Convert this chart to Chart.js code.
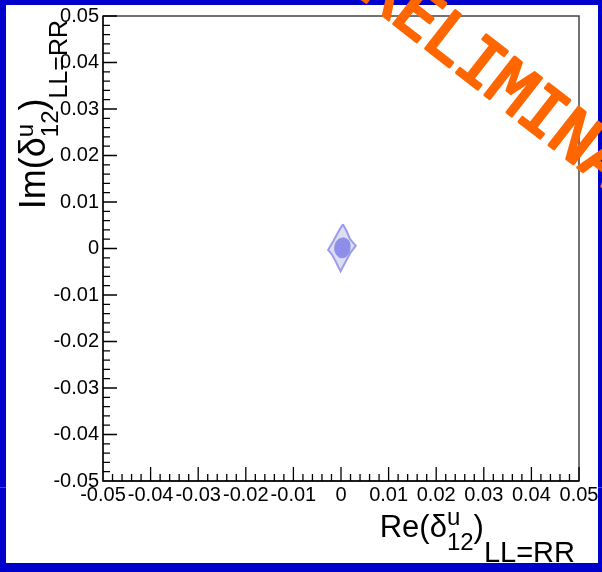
<!DOCTYPE html>
<html>
<head>
<meta charset="utf-8">
<script src="https://cdn.jsdelivr.net/npm/chart.js@4.4.1/dist/chart.umd.min.js"></script>
<style>
html, body { margin: 0; padding: 0; background: #fff; }
#wrap { width: 602px; height: 572px; }
</style>
</head>
<body>
<div id="wrap"><canvas id="contour" width="602" height="572"></canvas></div>
<script>
// axis labels (ROOT style, major every 0.01)
const xTickLabels = ['-0.05', '-0.04', '-0.03', '-0.02', '-0.01', '0', '0.01', '0.02', '0.03', '0.04', '0.05'];
const yTickLabels = ['-0.05', '-0.04', '-0.03', '-0.02', '-0.01', '0', '0.01', '0.02', '0.03', '0.04', '0.05'];

// outer (light) contour
const outerX = [0.0004, 0.0012, 0.0019, 0.0031, 0.0020, 0.0011, -0.0001, -0.0012, -0.0019, -0.0027, -0.0016, -0.0005, 0.0004];
const outerY = [0.0052, 0.0037, 0.0020, 0.0006, -0.0009, -0.0026, -0.0049, -0.0026, -0.0013, -0.0003, 0.0016, 0.0037, 0.0052];

// inner (dark) contour
const innerX = [0.0006, 0.0016, 0.0019, 0.0014, 0.0001, -0.0010, -0.0013, -0.0006, 0.0006];
const innerY = [0.0023, 0.0017, 0.0002, -0.0014, -0.0020, -0.0012, 0.0004, 0.0019, 0.0023];

function toPoints(xs, ys) {
    return xs.map((x, i) => ({ x: x, y: ys[i] }));
}

function isMajor(value) {
    return Math.round(value * 1000) % 10 === 0;
}

// blue slide frame + white background
const backgroundPlugin = {
    id: 'slideFrame',
    beforeDraw(chart) {
        const ctx = chart.ctx;
        ctx.save();
        ctx.fillStyle = '#fff';
        ctx.fillRect(0, 0, chart.width, chart.height);
        ctx.fillStyle = '#0000cc';
        ctx.fillRect(0, 0, chart.width, 5);
        ctx.fillRect(0, 0, 6, chart.height);
        ctx.fillRect(chart.width - 4, 0, 4, chart.height);
        ctx.fillRect(0, chart.height - 9, chart.width, 9);
        // small dark marks on the slide edge
        ctx.fillStyle = '#555';
        ctx.fillRect(0, 487, 6, 1);
        ctx.fillRect(chart.width - 4, 487, 4, 1);
        ctx.restore();
    }
};

// inward ticks, frame box, titles and the watermark
const rootStylePlugin = {
    id: 'rootStyle',
    afterDraw(chart) {
        const ctx = chart.ctx;
        const area = chart.chartArea;
        const xs = chart.scales.x;
        const ys = chart.scales.y;

        ctx.save();
        ctx.strokeStyle = '#444';
        ctx.lineWidth = 1.5;
        ctx.strokeRect(area.left, area.top, area.right - area.left, area.bottom - area.top);

        ctx.strokeStyle = '#000';
        ctx.lineWidth = 1.3;
        ctx.beginPath();
        ctx.moveTo(area.left, area.top);
        ctx.lineTo(area.left, area.bottom);
        ctx.lineTo(area.right, area.bottom);
        xs.ticks.forEach(t => {
            const px = xs.getPixelForValue(t.value);
            const len = isMajor(t.value) ? 14 : 7;
            ctx.moveTo(px, area.bottom);
            ctx.lineTo(px, area.bottom - len);
        });
        ys.ticks.forEach(t => {
            const py = ys.getPixelForValue(t.value);
            const len = isMajor(t.value) ? 14 : 7;
            ctx.moveTo(area.left, py);
            ctx.lineTo(area.left + len, py);
        });
        ctx.stroke();
        ctx.restore();

        drawTitle(ctx, 575, 537, 0, 'Re(', 31, 29, 25);
        drawTitle(ctx, 45, 20, -Math.PI / 2, 'Im(', 36, 25, 22);

        // PRELIMINARY watermark
        ctx.save();
        ctx.translate(509, 92);
        ctx.rotate(38 * Math.PI / 180);
        ctx.font = '66px "DejaVu Sans Mono"';
        ctx.fillStyle = '#ff6600';
        ctx.strokeStyle = '#ff6600';
        ctx.lineWidth = 3;
        ctx.lineJoin = 'round';
        ctx.lineCap = 'round';
        ctx.textAlign = 'center';
        ctx.textBaseline = 'middle';
        ctx.fillText('PRELIMINARY', 0, 0);
        ctx.strokeText('PRELIMINARY', 0, 0);
        ctx.restore();
    }
};

// draws  X(δ^u_12)_LL=RR  right-aligned at (x, y)
function drawTitle(ctx, x, y, angle, head, mainSize, tailSize, tailDy) {
    const fam = '"Liberation Sans", Arial, sans-serif';
    const segs = [
        { t: head, s: mainSize, dy: 0 },
        { t: 'δ', s: mainSize, dy: 0 },
        { sup: 'u', sub: '12', s: 24, supDy: -12, subDy: 13 },
        { t: ')', s: mainSize, dy: 0 },
        { t: 'LL=RR', s: tailSize, dy: tailDy }
    ];
    ctx.save();
    ctx.translate(x, y);
    ctx.rotate(angle);
    ctx.fillStyle = '#000';
    ctx.textBaseline = 'alphabetic';
    ctx.textAlign = 'left';

    let total = 0;
    segs.forEach(sg => {
        ctx.font = sg.s + 'px ' + fam;
        if (sg.t) {
            sg.w = ctx.measureText(sg.t).width;
        } else {
            sg.w = Math.max(ctx.measureText(sg.sup).width, ctx.measureText(sg.sub).width);
        }
        total += sg.w;
    });

    let cx = -total;
    segs.forEach(sg => {
        ctx.font = sg.s + 'px ' + fam;
        if (sg.t) {
            ctx.fillText(sg.t, cx, sg.dy);
        } else {
            ctx.fillText(sg.sup, cx, sg.supDy);
            ctx.fillText(sg.sub, cx, sg.subDy);
        }
        cx += sg.w;
    });
    ctx.restore();
}

const tickFont = { family: '"Liberation Sans", Arial, sans-serif', size: 20 };

const contourChart = new Chart(document.getElementById('contour'), {
    type: 'scatter',
    data: {
        datasets: [
            {
                label: '68%',
                data: toPoints(innerX, innerY),
                showLine: true,
                fill: 'shape',
                backgroundColor: '#8e8ee8',
                borderColor: '#8e8ee8',
                borderWidth: 1,
                tension: 0.4,
                pointRadius: 0
            },
            {
                label: '95%',
                data: toPoints(outerX, outerY),
                showLine: true,
                fill: 'shape',
                backgroundColor: '#dedef0',
                borderColor: '#9c9cee',
                borderWidth: 2,
                tension: 0,
                pointRadius: 0
            }
        ]
    },
    options: {
        responsive: false,
        animation: false,
        layout: {
            padding: { left: 51, top: 15, right: 23, bottom: 65 }
        },
        plugins: {
            legend: { display: false },
            tooltip: { enabled: false },
            title: { display: false }
        },
        scales: {
            x: {
                type: 'linear',
                min: -0.05,
                max: 0.05,
                afterFit(scale) { scale.height = 26; },
                grid: { drawOnChartArea: false, drawTicks: false },
                border: { display: false },
                ticks: {
                    stepSize: 0.002,
                    autoSkip: false,
                    maxRotation: 0,
                    minRotation: 0,
                    padding: 2,
                    color: '#000',
                    font: tickFont,
                    callback: function(value) {
                        if (!isMajor(value)) return '';
                        return xTickLabels[Math.round((value + 0.05) * 100)];
                    }
                }
            },
            y: {
                type: 'linear',
                min: -0.05,
                max: 0.05,
                afterFit(scale) { scale.width = 52; },
                grid: { drawOnChartArea: false, drawTicks: false },
                border: { display: false },
                ticks: {
                    stepSize: 0.002,
                    autoSkip: false,
                    padding: 4,
                    color: '#000',
                    font: tickFont,
                    callback: function(value) {
                        if (!isMajor(value)) return '';
                        return yTickLabels[Math.round((value + 0.05) * 100)];
                    }
                }
            }
        }
    },
    plugins: [backgroundPlugin, rootStylePlugin]
});
</script>
</body>
</html>
